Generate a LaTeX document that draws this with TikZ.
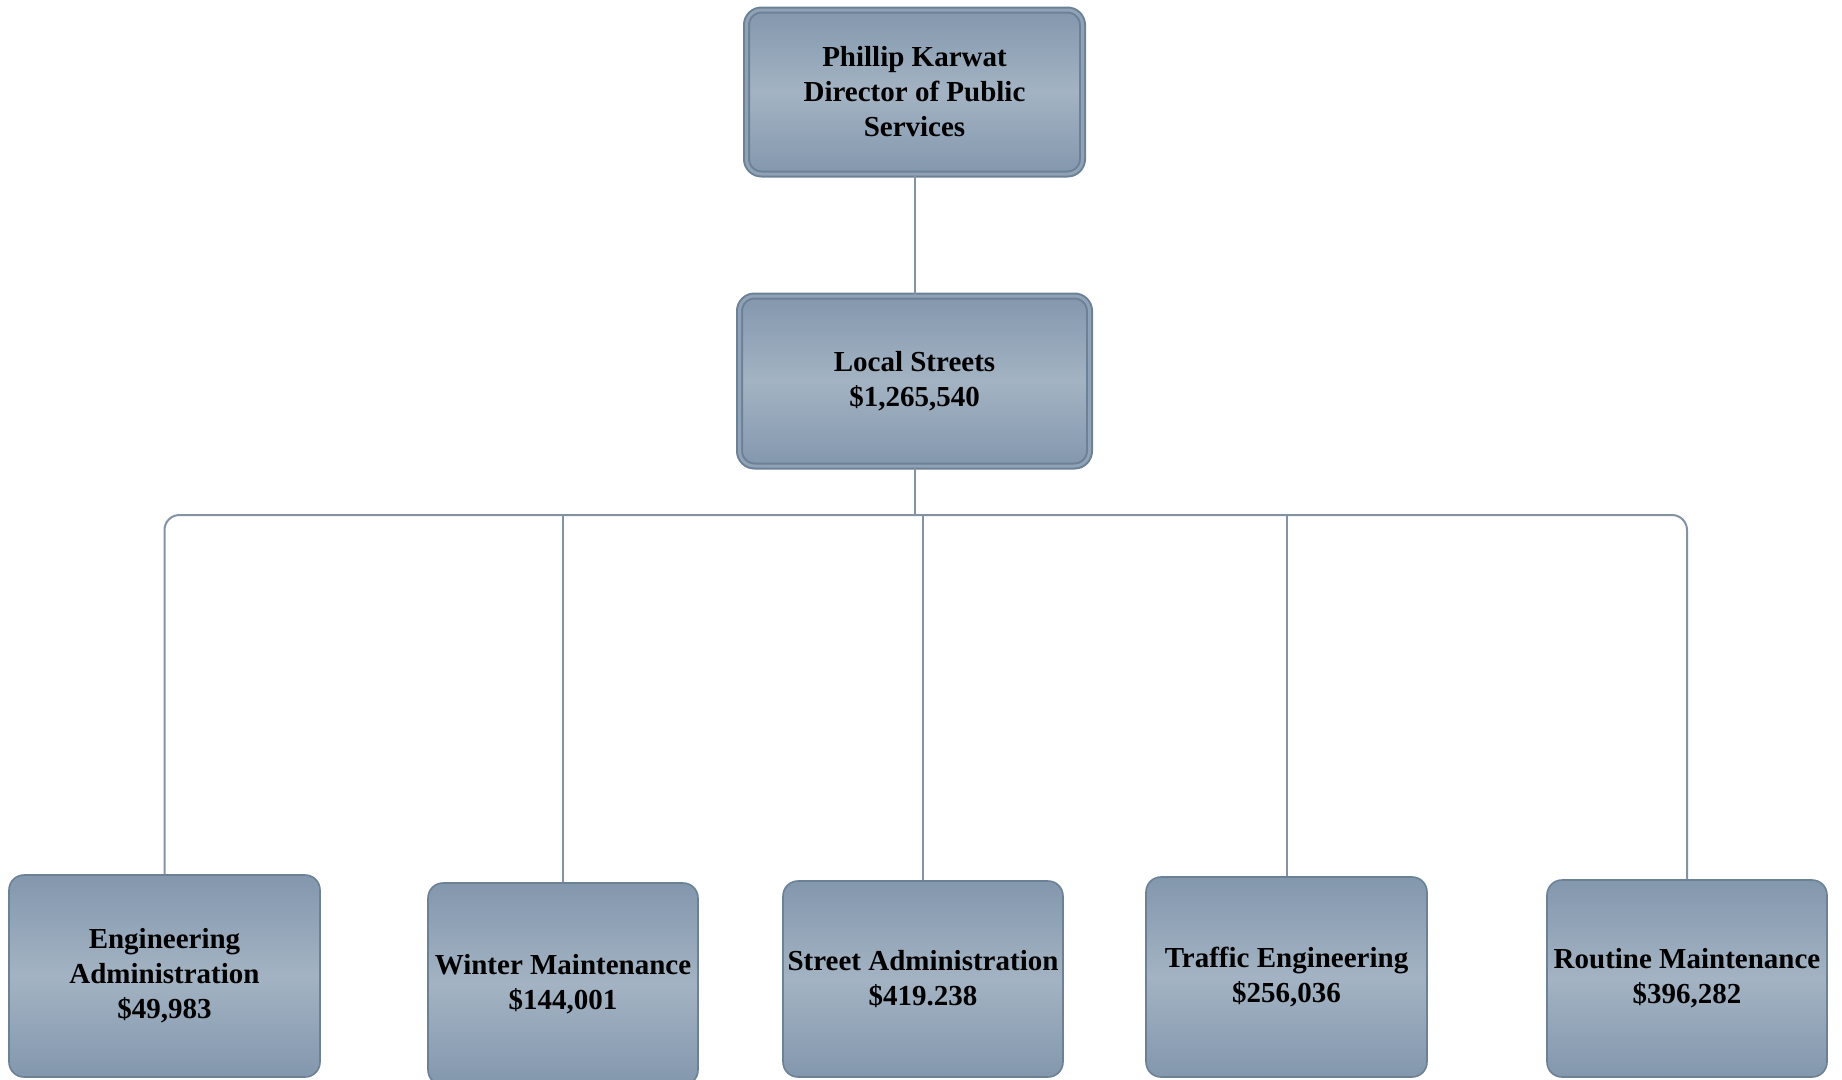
\documentclass[tikz,border=0pt]{standalone}
\usepackage{fontspec}
\setmainfont{Liberation Serif}
\begin{document}
\definecolor{boxdark}{HTML}{8397AD}
\definecolor{boxlight}{HTML}{A3B3C3}
\definecolor{boxmid}{HTML}{8FA2B6}
\definecolor{boxedge}{HTML}{6D8196}
\definecolor{linkgray}{HTML}{8393A5}
\begin{tikzpicture}[x=1pt,y=-1pt,
  unitbox/.style={rectangle, rounded corners=15pt, align=center,
    top color=boxdark, bottom color=boxdark, middle color=boxlight,
    draw=boxedge, line width=1.6pt, inner sep=0pt,
    font=\fontsize{29}{35}\selectfont\bfseries},
  headbox/.style={unitbox, draw=boxedge, line width=2pt,
    double=boxmid, double distance=3pt},
  conn/.style={draw=linkgray, line width=2pt}]
\useasboundingbox (0,0) rectangle (1842,1079);
\begin{scope}
\clip (0,0) rectangle (1842,1079);
% head and department
\node[headbox, minimum width=336pt, minimum height=164pt] (dir) at (914.5,92)
  {Phillip Karwat\\Director of Public\\Services};
\node[headbox, minimum width=350pt, minimum height=170pt] (ls) at (914.5,381)
  {Local Streets\\\$1,265,540};
% divisions
\node[unitbox, minimum width=311pt, minimum height=202pt] (ea) at (164.5,976)
  {Engineering\\Administration\\\$49,983};
\node[unitbox, minimum width=270pt, minimum height=202pt] (wm) at (563,984)
  {Winter Maintenance\\\$144,001};
\node[unitbox, minimum width=280pt, minimum height=196pt] (sa) at (923,979)
  {Street Administration\\\$419.238};
\node[unitbox, minimum width=281pt, minimum height=200pt] (te) at (1286.5,977)
  {Traffic Engineering\\\$256,036};
\node[unitbox, minimum width=280pt, minimum height=197pt] (rm) at (1687,978.5)
  {Routine Maintenance\\\$396,282};
\end{scope}
% connectors
\coordinate (bus) at (914.5,515);
\draw[conn] (dir.south) -- (ls.north);
\draw[conn] (ls.south) -- (bus);
\draw[conn, rounded corners=15pt] (ea.north) |- (bus) -| (rm.north);
\draw[conn] (bus -| wm.north) -- (wm.north);
\draw[conn] (bus -| sa.north) -- (sa.north);
\draw[conn] (bus -| te.north) -- (te.north);
\end{tikzpicture}
\end{document}
